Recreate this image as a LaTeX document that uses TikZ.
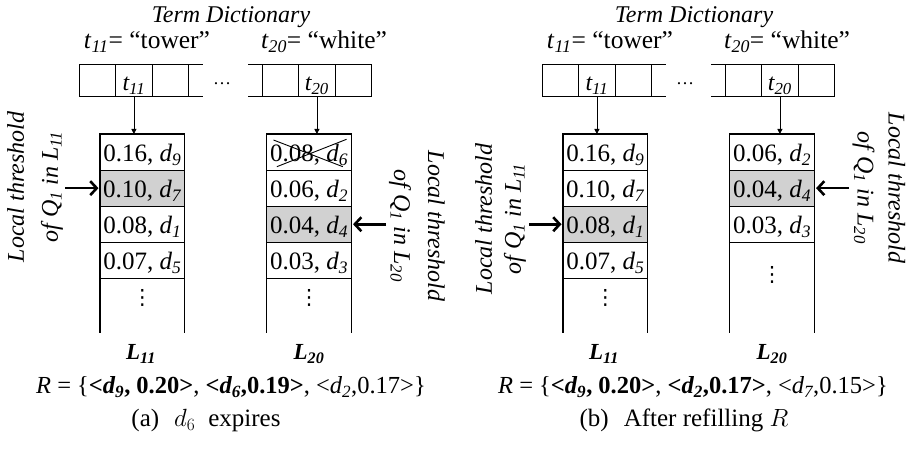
\documentclass[tikz,border=0pt]{standalone}
\usepackage{fontspec}
\setmainfont{Liberation Serif}
\newfontfamily\symfont{DejaVu Sans}
\usetikzlibrary{arrows.meta,calc}
\newcommand{\tsub}[2]{\textit{#1}\textsubscript{\textit{#2}}}
\newcommand{\dsub}[1]{\textit{d}\textsubscript{\textit{#1}}}
\tikzset{
  txt/.style={inner sep=0pt, font=\fontsize{24}{28}\selectfont},
  ittxt/.style={inner sep=0pt, font=\itshape\fontsize{24}{28}\selectfont},
  dlab/.style={inner sep=0pt, font=\fontsize{25.5}{28}\selectfont},
  rtxt/.style={inner sep=0pt, font=\fontsize{24.5}{28}\selectfont},
  cellbox/.style={draw, line width=1.1pt, inner sep=0pt, outer sep=0pt, minimum width=36.4pt, minimum height=32.4pt, text height=20pt, text depth=0pt, font=\itshape\fontsize{24}{28}\selectfont},
  rowbox/.style={draw, line width=1.1pt, inner sep=0pt, outer sep=0pt, minimum width=84.7pt, minimum height=36.1pt, text height=19pt, text depth=0pt, font=\fontsize{25}{28}\selectfont},
  hlrow/.style={rowbox, fill=black!18},
  openline/.style={line width=1.1pt},
  dictarrow/.style={line width=0.8pt, -{Triangle[length=5pt,width=5pt]}},
  tharrow/.style={line width=2.6pt, -{Straight Barb[length=6.5pt,width=14pt]}, shorten >=1.5pt},
  rotlabel/.style={inner sep=0pt, align=center, font=\itshape\fontsize{24}{34}\selectfont},
  llabel/.style={inner sep=0pt, font=\bfseries\itshape\fontsize{23}{28}\selectfont},
  dotsv/.style={inner sep=0pt, font=\symfont\fontsize{21}{24}\selectfont},
  hdots/.style={inner sep=0pt, font=\fontsize{18}{20}\selectfont},
  crossline/.style={line width=0.9pt},
  captxt/.style={inner sep=0pt, font=\fontsize{25}{28}\selectfont},
}
\begin{document}
\begin{tikzpicture}[x=1pt,y=-1pt]
\useasboundingbox (0,0) rectangle (908,454);
% ================= panel (a) =================
\node[ittxt, anchor=base] (a-title) at (231,22.7) {Term Dictionary};
\node[dlab, anchor=base] (a-t11lab) at (147,48.3) {\tsub{t}{11}= “tower”};
\node[dlab, anchor=base] (a-t20lab) at (324,48.3) {\tsub{t}{20}= “white”};
\node[cellbox] (a-c1) at (97.5,80.5) {};
\node[cellbox] (a-c2) at (133.9,80.5) {\tsub{t}{11}};
\node[cellbox] (a-c3) at (170.3,80.5) {};
\draw[openline] (a-c3.north east) -- ++(14.5,0);
\draw[openline] (a-c3.south east) -- ++(14.5,0);
\node[hdots, anchor=base] (a-dots) at (222,84.5) {…};
\node[cellbox] (a-d1) at (280.5,80.5) {};
\node[cellbox] (a-d2) at (316.9,80.5) {\tsub{t}{20}};
\node[cellbox] (a-d3) at (353.3,80.5) {};
\draw[openline] (a-d1.north west) -- ++(-14,0);
\draw[openline] (a-d1.south west) -- ++(-14,0);
% L11
\node[rowbox] (a-l11-1) at (142.35,152.05) {0.16, \dsub{9}};
\node[hlrow] (a-l11-2) at (142.35,188.15) {0.10, \dsub{7}};
\node[rowbox] (a-l11-3) at (142.35,224.25) {0.08, \dsub{1}};
\node[rowbox] (a-l11-4) at (142.35,260.35) {0.07, \dsub{5}};
\draw[openline] (a-l11-4.south west) -- ++(0,54.6);
\draw[openline] (a-l11-4.south east) -- ++(0,54.6);
\node[dotsv] (a-l11-v) at (142.35,297.5) {⋮};
% L20
\node[rowbox] (a-l20-1) at (309.2,152.05) {0.08, \dsub{6}};
\node[rowbox] (a-l20-2) at (309.2,188.15) {0.06, \dsub{2}};
\node[hlrow] (a-l20-3) at (309.2,224.25) {0.04, \dsub{4}};
\node[rowbox] (a-l20-4) at (309.2,260.35) {0.03, \dsub{3}};
\draw[openline] (a-l20-4.south west) -- ++(0,54.6);
\draw[openline] (a-l20-4.south east) -- ++(0,54.6);
\node[dotsv] (a-l20-v) at (309.2,297.5) {⋮};
\draw[crossline] ($(a-l20-1.north west)+(6.6,6)$) -- ($(a-l20-1.south east)+(-8.7,-3.4)$);
\draw[crossline] ($(a-l20-1.south west)+(10,-3.4)$) -- ($(a-l20-1.north east)+(-5,5.3)$);
% arrows
\draw[dictarrow] (a-c2.south) -- (a-c2.south |- a-l11-1.north);
\draw[dictarrow] (a-d2.south) -- (a-d2.south |- a-l20-1.north);
\coordinate (a-tls) at (65,188.15);
\draw[tharrow] (a-tls) -- (a-l11-2.west);
\coordinate (a-trs) at (386,224.25);
\draw[tharrow] (a-trs) -- (a-l20-3.east);
\node[rotlabel, rotate=90] (a-labl) at (35,187) {Local threshold\\of \tsub{Q}{1} in \tsub{L}{11}};
\node[rotlabel, rotate=-90] (a-labr) at (417,226) {Local threshold\\of \tsub{Q}{1} in \tsub{L}{20}};
\node[llabel, anchor=base] (a-L11) at (141,359.3) {\textit{L}\textsubscript{11}};
\node[llabel, anchor=base] (a-L20) at (309,359.3) {\textit{L}\textsubscript{20}};
\node[rtxt, anchor=base] (a-R) at (231,394) {\textit{R} = \{\textbf{<\textit{d\textsubscript{9}}, 0.20>}, \textbf{<\textit{d\textsubscript{6}},0.19>}, <\textit{d\textsubscript{2}},0.17>\}};
\node[captxt, anchor=base] (a-cap) at (206,426.5) {(a)\hspace{15pt}$d_6$\hspace{13pt}expires};
% ================= panel (b) =================
\begin{scope}[xshift=463pt]
\node[ittxt, anchor=base] (b-title) at (231,22.7) {Term Dictionary};
\node[dlab, anchor=base] (b-t11lab) at (147,48.3) {\tsub{t}{11}= “tower”};
\node[dlab, anchor=base] (b-t20lab) at (324,48.3) {\tsub{t}{20}= “white”};
\node[cellbox] (b-c1) at (97.5,80.5) {};
\node[cellbox] (b-c2) at (133.9,80.5) {\tsub{t}{11}};
\node[cellbox] (b-c3) at (170.3,80.5) {};
\draw[openline] (b-c3.north east) -- ++(14.5,0);
\draw[openline] (b-c3.south east) -- ++(14.5,0);
\node[hdots, anchor=base] (b-dots) at (222,84.5) {…};
\node[cellbox] (b-d1) at (280.5,80.5) {};
\node[cellbox] (b-d2) at (316.9,80.5) {\tsub{t}{20}};
\node[cellbox] (b-d3) at (353.3,80.5) {};
\draw[openline] (b-d1.north west) -- ++(-14,0);
\draw[openline] (b-d1.south west) -- ++(-14,0);
% L11
\node[rowbox] (b-l11-1) at (142.35,152.05) {0.16, \dsub{9}};
\node[rowbox] (b-l11-2) at (142.35,188.15) {0.10, \dsub{7}};
\node[hlrow] (b-l11-3) at (142.35,224.25) {0.08, \dsub{1}};
\node[rowbox] (b-l11-4) at (142.35,260.35) {0.07, \dsub{5}};
\draw[openline] (b-l11-4.south west) -- ++(0,54.6);
\draw[openline] (b-l11-4.south east) -- ++(0,54.6);
\node[dotsv] (b-l11-v) at (142.35,297.5) {⋮};
% L20
\node[rowbox] (b-l20-1) at (309.2,152.05) {0.06, \dsub{2}};
\node[hlrow] (b-l20-2) at (309.2,188.15) {0.04, \dsub{4}};
\node[rowbox] (b-l20-3) at (309.2,224.25) {0.03, \dsub{3}};
\draw[openline] (b-l20-3.south west) -- ++(0,90.7);
\draw[openline] (b-l20-3.south east) -- ++(0,90.7);
\node[dotsv] (b-l20-v) at (309.2,275) {⋮};
% arrows
\draw[dictarrow] (b-c2.south) -- (b-c2.south |- b-l11-1.north);
\draw[dictarrow] (b-d2.south) -- (b-d2.south |- b-l20-1.north);
\coordinate (b-tls) at (66,224.25);
\draw[tharrow] (b-tls) -- (b-l11-3.west);
\coordinate (b-trs) at (386,188.15);
\draw[tharrow] (b-trs) -- (b-l20-2.east);
\node[llabel, anchor=base] (b-L11) at (141,359.3) {\textit{L}\textsubscript{11}};
\node[llabel, anchor=base] (b-L20) at (309,359.3) {\textit{L}\textsubscript{20}};
\end{scope}
\node[rotlabel, rotate=90, font=\itshape\fontsize{24}{29}\selectfont] (b-labl) at (500.5,219) {Local threshold\\of \tsub{Q}{1} in \tsub{L}{11}};
\node[rotlabel, rotate=-90, font=\itshape\fontsize{24}{31}\selectfont] (b-labr) at (879,188) {Local threshold\\of \tsub{Q}{1} in \tsub{L}{20}};
\node[rtxt, anchor=base] (b-R) at (693,394) {\textit{R} = \{\textbf{<\textit{d\textsubscript{9}}, 0.20>}, \textbf{<\textit{d\textsubscript{2}},0.17>}, <\textit{d\textsubscript{7}},0.15>\}};
\node[captxt, anchor=base] (b-cap) at (684,426.5) {(b)\hspace{15pt}After refilling $R$};
\end{tikzpicture}
\end{document}
